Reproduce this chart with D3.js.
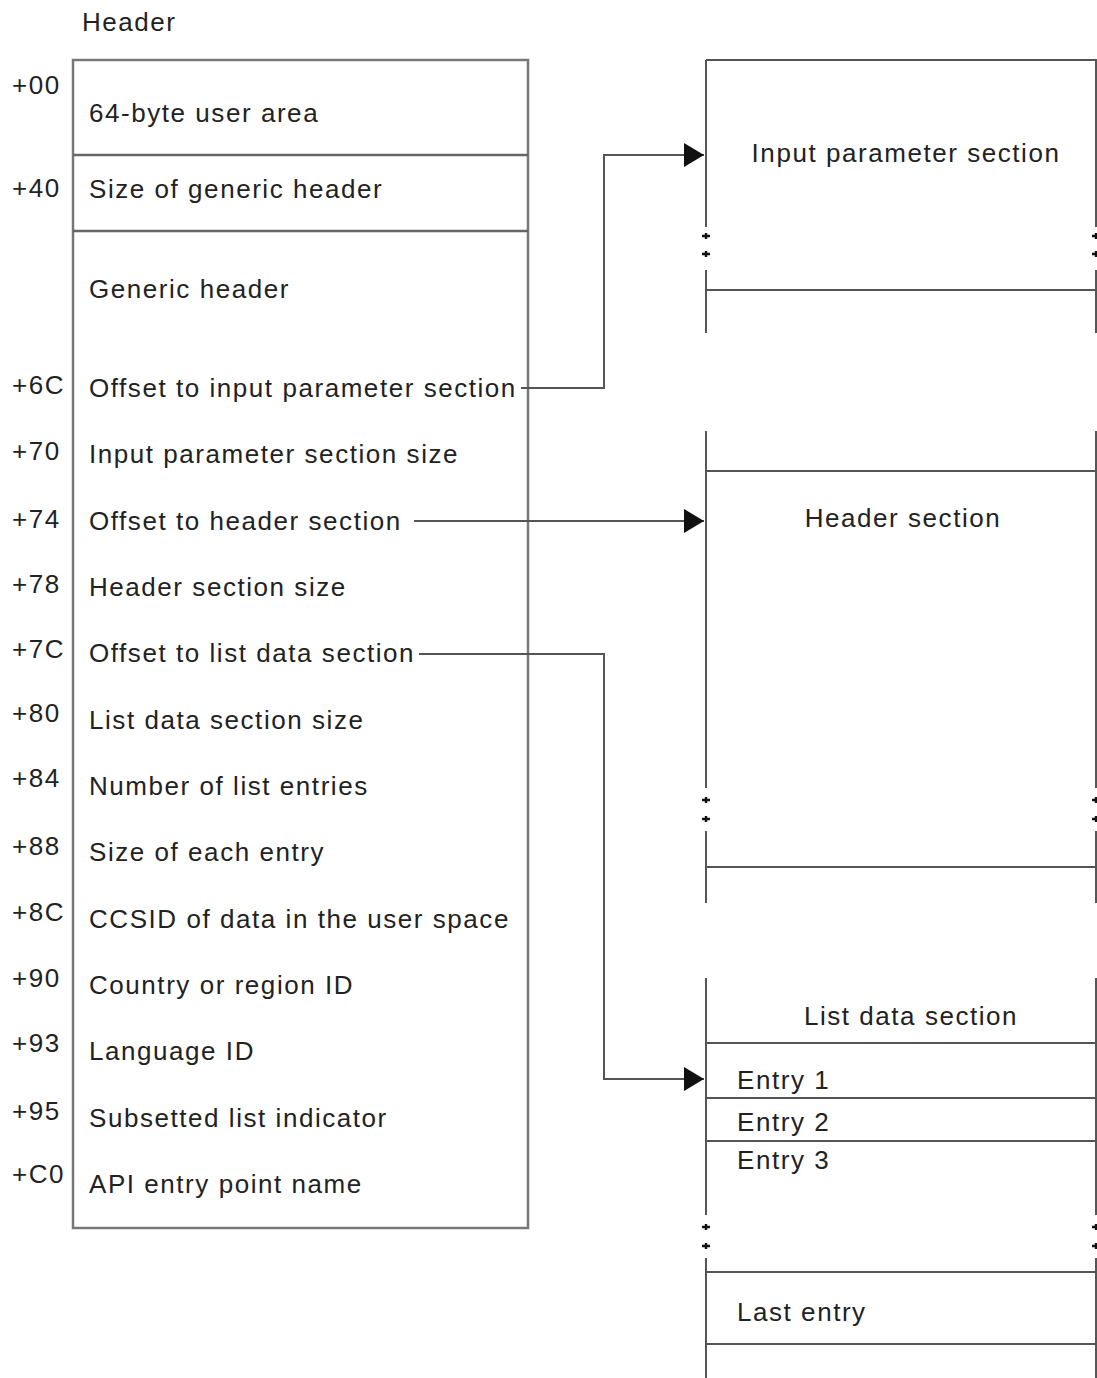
<!DOCTYPE html>
<html>
<head>
<meta charset="utf-8">
<script src="https://cdn.jsdelivr.net/npm/d3@7"></script>
<style>
  body { margin: 0; background: #fff; }
  svg text { font-family: "Liberation Sans", Arial, sans-serif; font-size: 26px; letter-spacing: 1.55px; fill: #222; }
</style>
</head>
<body>
<svg width="1097" height="1378"></svg>
<script>
// header fields with their offsets ("" = no offset shown)
var offsets = ["+00", "+40", "", "+6C", "+70", "+74", "+78", "+7C", "+80", "+84", "+88", "+8C", "+90", "+93", "+95", "+C0"];
var fields = ["64-byte user area", "Size of generic header", "Generic header",
    "Offset to input parameter section", "Input parameter section size",
    "Offset to header section", "Header section size", "Offset to list data section",
    "List data section size", "Number of list entries", "Size of each entry",
    "CCSID of data in the user space", "Country or region ID", "Language ID",
    "Subsetted list indicator", "API entry point name"];
// row slot of each field (regular rows are 0..12)
var slots = [-4.15, -3, -1.5, 0, 1, 2, 3, 4, 5, 6, 7, 8, 9, 10, 11, 12];
var offsetSlots = [-4.57, -3.02, null, -0.05, 0.95, 1.97, 2.95, 3.93, 4.9, 5.88, 6.9, 7.9, 8.9, 9.88, 10.9, 11.85];

var sectionNames = ["Input parameter section", "Header section", "List data section"];
var entryNames = ["Entry 1", "Entry 2", "Entry 3", "Last entry"];

var svg = d3.select("svg");
var y = d3.scaleLinear().domain([0, 12]).range([388, 1184]);

var lineCol = "#555";
var xL = 706, xR = 1096;

// left header box
svg.append("rect")
    .attr("x", 73).attr("y", 60).attr("width", 455).attr("height", 1168)
    .attr("fill", "none").attr("stroke", "#777").attr("stroke-width", 2.5);
[155, 231].forEach(function(d) {
    svg.append("line").attr("x1", 73).attr("x2", 528).attr("y1", d).attr("y2", d)
        .attr("stroke", "#666").attr("stroke-width", 2.5);
});

svg.append("text").attr("x", 82).attr("y", 22).attr("dy", "0.35em").text("Header");

svg.selectAll(".field")
    .data(fields)
    .enter().append("text")
        .attr("class", "field")
        .attr("x", 89)
        .attr("y", function(d, i) { return y(slots[i]); })
        .attr("dy", "0.35em")
        .text(function(d) { return d; });

svg.selectAll(".off")
    .data(offsets.filter(function(d) { return d !== ""; }))
    .enter().append("text")
        .attr("class", "off")
        .attr("x", 12)
        .attr("y", function(d) { return y(offsetSlots[offsets.indexOf(d)]); })
        .attr("dy", "0.35em")
        .style("letter-spacing", "1.5px")
        .text(function(d) { return d; });

// right side sections
var boxes = [
    {segs: [[60, 227], [270, 333]], dots: [236, 254], rules: [60, 290], label: [906, 153]},
    {segs: [[431, 788], [831, 903]], dots: [800, 819], rules: [471, 867], label: [903, 518]},
    {segs: [[978, 1215], [1258, 1378]], dots: [1227, 1246], rules: [1043, 1098, 1141, 1272, 1344], label: [911, 1016]}
];

boxes.forEach(function(b, i) {
    var g = svg.append("g");
    [xL, xR].forEach(function(x) {
        b.segs.forEach(function(s) {
            g.append("line").attr("x1", x).attr("x2", x).attr("y1", s[0]).attr("y2", s[1])
                .attr("stroke", lineCol).attr("stroke-width", 2);
        });
        b.dots.forEach(function(dy) {
            g.append("path")
                .attr("d", "M" + (x - 4) + "," + dy + "h8M" + x + "," + (dy - 3) + "v6")
                .attr("stroke", "#111").attr("stroke-width", 2.4);
        });
    });
    b.rules.forEach(function(r) {
        g.append("line").attr("x1", xL).attr("x2", xR + 1).attr("y1", r).attr("y2", r)
            .attr("stroke", lineCol).attr("stroke-width", 2);
    });
    g.append("text").attr("x", b.label[0]).attr("y", b.label[1]).attr("dy", "0.35em")
        .attr("text-anchor", "middle").text(sectionNames[i]);
});

var entryY = [1080, 1122, 1160, 1312];
svg.selectAll(".entry")
    .data(entryNames)
    .enter().append("text")
        .attr("class", "entry")
        .attr("x", 737)
        .attr("y", function(d, i) { return entryY[i]; })
        .attr("dy", "0.35em")
        .text(function(d) { return d; });

// arrows
svg.append("defs").append("marker")
    .attr("id", "arr")
    .attr("markerUnits", "userSpaceOnUse")
    .attr("markerWidth", 22).attr("markerHeight", 26)
    .attr("viewBox", "0 0 22 26")
    .attr("refX", 20).attr("refY", 13)
    .attr("orient", "auto")
    .append("path").attr("d", "M0,1L20,13L0,25Z").attr("fill", "#111");

var arrows = [
    [[521, y(0)], [604, y(0)], [604, 155], [704, 155]],
    [[414, 521], [704, 521]],
    [[419, 654], [604, 654], [604, 1079], [704, 1079]]
];
svg.selectAll(".arrow")
    .data(arrows)
    .enter().append("path")
        .attr("class", "arrow")
        .attr("d", d3.line())
        .attr("fill", "none")
        .attr("stroke", lineCol)
        .attr("stroke-width", 2)
        .attr("marker-end", "url(#arr)");
</script>
</body>
</html>
